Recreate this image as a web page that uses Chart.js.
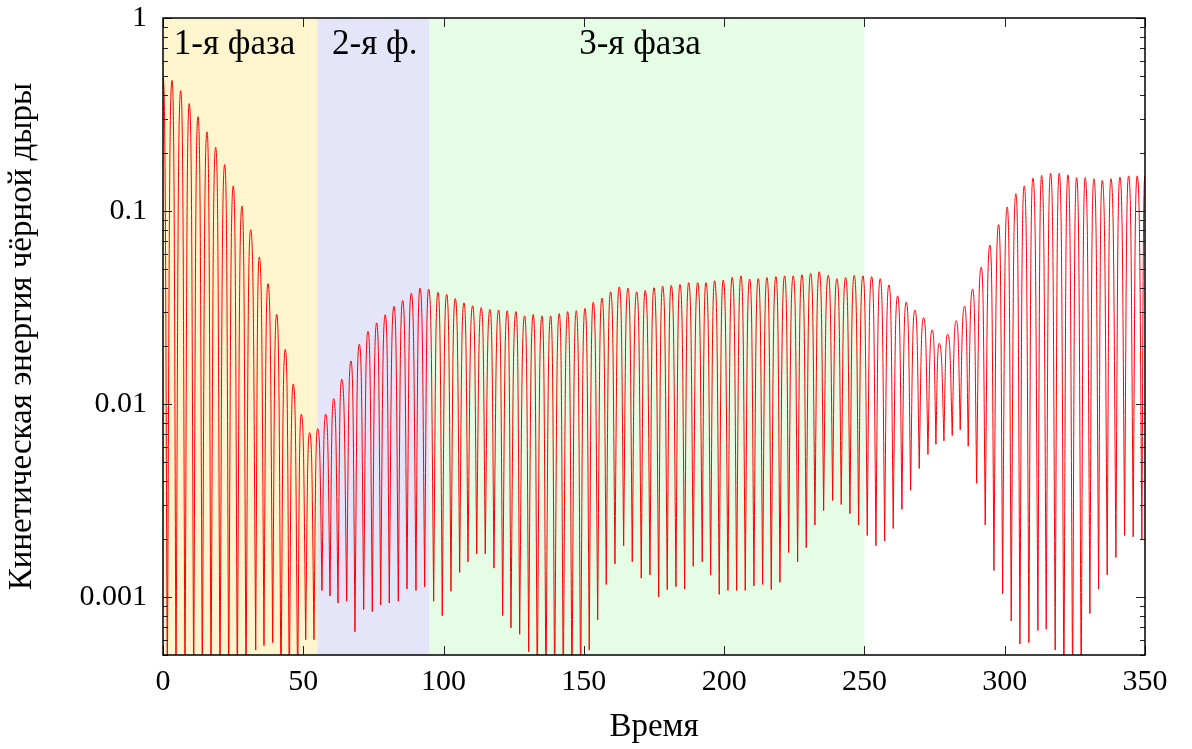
<!DOCTYPE html>
<html>
<head>
<meta charset="utf-8">
<script src="https://cdn.jsdelivr.net/npm/chart.js@4.4.1/dist/chart.umd.min.js"></script>
<style>
  html, body { margin: 0; padding: 0; background: #fff; }
  #wrap { width: 1192px; height: 749px; }
</style>
</head>
<body>
<div id="wrap"><canvas id="bhChart" width="1192" height="749"></canvas></div>
<script>
// Kinetic energy of the black hole: local maxima and minima
// (minima below the axis floor are given as 0.0003, they are clipped anyway)
const peakTime = [0, 3.21, 6.31, 9.37, 12.47, 15.68, 18.78, 21.99, 25.05, 28.15, 31.25,
  34.32, 37.42, 40.52, 43.59, 46.44, 49.29, 52.28, 55.13, 57.98, 60.83, 63.69,
  67.00, 69.96, 73.06, 76.16, 79.22, 82.32, 85.42, 88.49, 91.59, 94.69,
  98.00, 101.10, 104.17, 107.27, 110.37, 113.44, 116.54, 119.64, 122.70, 125.80,
  128.90, 131.97, 135.07, 138.17, 141.23, 144.23, 147.29, 150.39, 153.35, 156.45, 159.55,
  162.62, 165.72, 168.82, 171.88, 174.98, 178.08, 181.15, 184.25, 187.35, 190.56,
  193.51, 196.61, 199.68, 202.89, 205.99, 209.09, 212.15, 215.25, 218.46, 221.56,
  224.63, 227.73, 230.83, 233.89, 237.10, 240.20, 243.30, 246.36, 249.47, 252.57, 255.63,
  258.73, 261.83, 264.90, 268.00, 271.10, 274.16, 276.66, 279.65, 282.72, 285.71,
  288.56, 291.63, 294.73, 297.83, 300.89, 303.99, 306.95, 310.05, 313.15, 316.36, 319.42,
  322.52, 325.62, 328.69, 331.79, 334.75, 337.85, 341.05, 344.16, 347.22, 350];
const peakEnergy = [0.50, 0.475, 0.42, 0.36, 0.308, 0.257, 0.214, 0.174, 0.135, 0.106, 0.080,
  0.0578, 0.042, 0.0291, 0.0192, 0.0127, 0.00885, 0.0071, 0.00745, 0.00885, 0.01066, 0.01343,
  0.0167, 0.0204, 0.0238, 0.0263, 0.029, 0.0321, 0.0344, 0.0375, 0.0398, 0.0394,
  0.0379, 0.037, 0.0352, 0.0334, 0.0323, 0.0316, 0.0309, 0.0307, 0.0304, 0.0301,
  0.0286, 0.0291, 0.0286, 0.0286, 0.0294, 0.0301, 0.0304, 0.0313, 0.0337, 0.0354, 0.0381,
  0.0404, 0.0398, 0.0381, 0.0388, 0.040, 0.0408, 0.0412, 0.0416, 0.0425, 0.0425,
  0.0425, 0.0435, 0.0439, 0.0454, 0.0461, 0.0444, 0.0446, 0.0452, 0.0457, 0.0461,
  0.0461, 0.0467, 0.0475, 0.0484, 0.0464, 0.0446, 0.0452, 0.0464, 0.0461, 0.0457, 0.0446,
  0.0414, 0.0363, 0.0337, 0.0307, 0.028, 0.0242, 0.0206, 0.023, 0.027, 0.0321,
  0.0394, 0.0511, 0.0666, 0.085, 0.105, 0.123, 0.135, 0.148, 0.153, 0.157, 0.157,
  0.154, 0.149, 0.149, 0.147, 0.144, 0.147, 0.150, 0.152, 0.152, 0.153];
const dipTime = [1.53, 4.63, 7.84, 10.94, 14.01, 17.11, 20.31, 23.41, 26.48, 29.58,
  33.04, 35.99, 39.09, 42.05, 45.01, 48.00, 50.86, 53.81, 56.66, 59.52, 62.37,
  65.47, 68.42, 71.53, 74.59, 77.58, 80.65, 83.86, 86.96, 90.16, 93.26,
  96.47, 99.54, 102.64, 105.74, 108.70, 111.80, 114.86, 117.96, 121.06, 124.02, 127.12,
  130.33, 133.39, 136.49, 139.59, 142.66, 145.76, 148.86, 151.92, 154.92, 157.98,
  161.08, 164.18, 167.25, 170.46, 173.56, 176.66, 179.72, 182.82, 185.92, 188.99,
  192.19, 195.19, 198.25, 201.35, 204.45, 207.52, 210.62, 213.72, 216.79, 219.89, 222.99,
  226.19, 229.26, 232.36, 235.46, 238.67, 241.73, 244.83, 247.93, 251.00, 254.10,
  257.20, 260.26, 263.36, 266.46, 269.53, 272.63, 275.48, 278.33, 281.29, 284.14, 286.99,
  289.99, 293.05, 296.15, 299.25, 302.32, 305.42, 308.62, 311.83, 314.79, 317.99,
  321.10, 324.20, 327.26, 330.36, 333.46, 336.53, 339.63, 342.73, 345.79, 348.89];
const dipEnergy = [0.0003, 0.0003, 0.0003, 0.0003, 0.0003, 0.0003, 0.0003, 0.0003, 0.0003, 0.0003,
  0.00053, 0.00056, 0.00058, 0.0003, 0.0003, 0.0003, 0.0006, 0.0006, 0.00108, 0.00101, 0.00093,
  0.00095, 0.00066, 0.00086, 0.00084, 0.00091, 0.00093, 0.00095, 0.0011, 0.00108, 0.00113,
  0.00095, 0.0008, 0.00107, 0.00134, 0.00152, 0.00167, 0.00167, 0.00141, 0.0008, 0.00069, 0.00064,
  0.00052, 0.0003, 0.0003, 0.0003, 0.0003, 0.0003, 0.0003, 0.00053, 0.00076, 0.00116,
  0.00148, 0.00184, 0.00152, 0.00125, 0.0013, 0.001, 0.00109, 0.00113, 0.0011, 0.00144,
  0.00152, 0.0013, 0.00103, 0.00108, 0.00108, 0.00108, 0.00114, 0.00116, 0.00109, 0.00119, 0.0017,
  0.00152, 0.0018, 0.00236, 0.0028, 0.00316, 0.00301, 0.0027, 0.00236, 0.00208, 0.00184,
  0.00195, 0.00226, 0.00284, 0.00357, 0.00463, 0.00547, 0.00618, 0.00644, 0.00686, 0.00735, 0.00604,
  0.00388, 0.00236, 0.00137, 0.00104, 0.00075, 0.00057, 0.00058, 0.00067, 0.00068, 0.00053,
  0.0003, 0.0003, 0.0003, 0.00082, 0.0011, 0.0013, 0.0016, 0.00208, 0.00205, 0.00199];

// фазы
const phaseStart = [0, 55, 95];
const phaseEnd = [55, 95, 250];
const phaseColor = ['#fcf5cd', '#e5e5fa', '#e4fde4'];
const phaseLabel = ['1-я фаза', '2-я ф.', '3-я фаза'];
const phaseLabelAt = [25.5, 75.5, 170];

const xTicks = [0, 50, 100, 150, 200, 250, 300, 350];
const yTicks = [0.001, 0.01, 0.1, 1];
const yMin = 0.0005, yMax = 1;

const FONT = '"Liberation Serif", "DejaVu Serif", serif';
const TICK_SIZE = 30;
const TITLE_SIZE = 33;
const PHASE_SIZE = 35;

const points = [];
peakTime.forEach((t, i) => points.push({ x: t, y: peakEnergy[i] }));
dipTime.forEach((t, i) => points.push({ x: t, y: dipEnergy[i] }));
points.sort((a, b) => a.x - b.x);

// minor log ticks (2..9 per decade)
function minorTicks() {
    const out = [];
    for (let e = -4; e <= 0; e++) {
        for (let m = 2; m <= 9; m++) {
            const v = m * Math.pow(10, e);
            if (v >= yMin && v <= yMax) out.push(v);
        }
    }
    return out;
}

// shaded phase bands + their captions
const phaseBands = {
    id: 'phaseBands',
    beforeDatasetsDraw(chart) {
        const { ctx, chartArea: a, scales: { x } } = chart;
        ctx.save();
        phaseStart.forEach((s, i) => {
            const x0 = x.getPixelForValue(s);
            const x1 = x.getPixelForValue(phaseEnd[i]);
            ctx.fillStyle = phaseColor[i];
            ctx.fillRect(x0, a.top, x1 - x0, a.bottom - a.top);
        });
        ctx.fillStyle = '#000';
        ctx.font = PHASE_SIZE + 'px ' + FONT;
        ctx.textAlign = 'center';
        ctx.textBaseline = 'middle';
        phaseLabel.forEach((txt, i) => {
            ctx.fillText(txt, x.getPixelForValue(phaseLabelAt[i]), a.top + 27);
        });
        ctx.restore();
    }
};

// rounded tops, sharp dips: reshape the bezier handles chart.js computed
const archCurve = {
    id: 'archCurve',
    beforeDatasetDraw(chart, args) {
        const line = args.meta.dataset;
        const pts = args.meta.data;
        if (line.updateControlPoints) line.updateControlPoints(chart.chartArea, 'x');
        for (let i = 0; i < pts.length; i++) {
            const p = pts[i];
            const prev = pts[i - 1] || p;
            const next = pts[i + 1] || p;
            if (p.y > prev.y && p.y > next.y) {
                p.cp1x = p.x - 0.4 * (p.x - prev.x);
                p.cp1y = p.y - 0.65 * (p.y - prev.y);
                p.cp2x = p.x + 0.4 * (next.x - p.x);
                p.cp2y = p.y - 0.65 * (p.y - next.y);
            } else {
                p.cp1x = p.x - 0.6 * (p.x - prev.x);
                p.cp1y = p.y;
                p.cp2x = p.x + 0.6 * (next.x - p.x);
                p.cp2y = p.y;
            }
        }
    }
};

// frame with inward ticks on all four sides
const frameTicks = {
    id: 'frameTicks',
    afterDraw(chart) {
        const { ctx, chartArea: a, scales: { x, y } } = chart;
        ctx.save();
        ctx.strokeStyle = '#222';
        ctx.lineWidth = 1;
        ctx.beginPath();
        xTicks.forEach(v => {
            const px = Math.round(x.getPixelForValue(v)) + 0.5;
            ctx.moveTo(px, a.bottom); ctx.lineTo(px, a.bottom - 9);
            ctx.moveTo(px, a.top); ctx.lineTo(px, a.top + 9);
        });
        yTicks.forEach(v => {
            const py = Math.round(y.getPixelForValue(v)) + 0.5;
            ctx.moveTo(a.left, py); ctx.lineTo(a.left + 9, py);
            ctx.moveTo(a.right, py); ctx.lineTo(a.right - 9, py);
        });
        minorTicks().forEach(v => {
            const py = Math.round(y.getPixelForValue(v)) + 0.5;
            ctx.moveTo(a.left, py); ctx.lineTo(a.left + 5, py);
            ctx.moveTo(a.right, py); ctx.lineTo(a.right - 5, py);
        });
        ctx.stroke();
        ctx.strokeStyle = '#000';
        ctx.lineWidth = 1.5;
        ctx.strokeRect(a.left, a.top, a.right - a.left, a.bottom - a.top);
        ctx.restore();
    }
};

new Chart(document.getElementById('bhChart'), {
    type: 'line',
    data: {
        datasets: [{
            data: points,
            borderColor: '#ff0000',
            borderWidth: 1,
            pointRadius: 0,
            tension: 0.4,
            fill: false
        }]
    },
    options: {
        responsive: false,
        animation: false,
        layout: { padding: { top: 18, right: 47, left: 0, bottom: 0 } },
        plugins: { legend: { display: false }, tooltip: { enabled: false } },
        scales: {
            x: {
                type: 'linear',
                min: 0,
                max: 350,
                grid: { display: false, drawTicks: false },
                border: { display: false },
                afterBuildTicks: s => { s.ticks = xTicks.map(v => ({ value: v })); },
                afterFit: s => { s.height = 94; s.paddingLeft = 0; s.paddingRight = 0; },
                ticks: {
                    color: '#000',
                    padding: 9,
                    maxRotation: 0,
                    font: { family: FONT, size: TICK_SIZE },
                    callback: v => String(v)
                },
                title: {
                    display: true,
                    text: 'Время',
                    color: '#000',
                    padding: { top: 0, bottom: 2 },
                    font: { family: FONT, size: TITLE_SIZE }
                }
            },
            y: {
                type: 'logarithmic',
                min: yMin,
                max: yMax,
                grid: { display: false, drawTicks: false },
                border: { display: false },
                afterBuildTicks: s => { s.ticks = yTicks.map(v => ({ value: v })); },
                afterFit: s => { s.width = 163; s.paddingTop = 0; s.paddingBottom = 0; },
                ticks: {
                    color: '#000',
                    padding: 16,
                    font: { family: FONT, size: TICK_SIZE },
                    callback: v => String(v)
                },
                title: {
                    display: true,
                    text: 'Кинетическая энергия чёрной дыры',
                    color: '#000',
                    padding: { top: 3, bottom: 0 },
                    font: { family: FONT, size: TITLE_SIZE }
                }
            }
        }
    },
    plugins: [phaseBands, archCurve, frameTicks]
});
</script>
</body>
</html>
